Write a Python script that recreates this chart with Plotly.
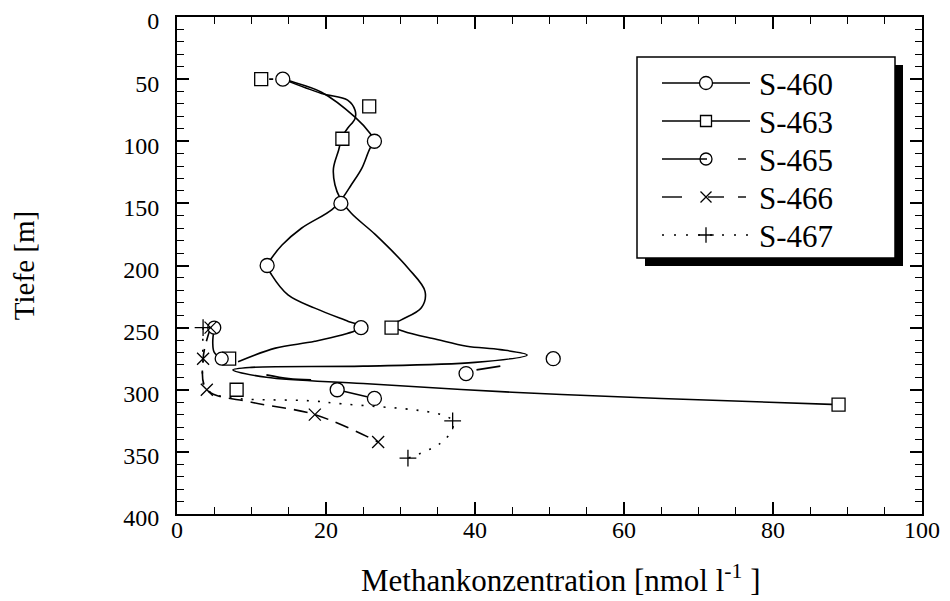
import plotly.graph_objects as go

FONT = "Liberation Serif, Times New Roman, serif"

# ---- marker data (x: Methankonzentration [nmol/l], y: Tiefe [m]) ----
s460_x = [14.2, 26.5, 22.0, 12.1, 24.7, 50.5, 38.8, 21.5, 26.5]
s460_y = [50, 100, 150, 200, 250, 275, 287, 300, 307]
s463_x = [11.3, 25.8, 22.2, 28.8, 7.0, 8.0, 88.8]
s463_y = [50, 72, 98, 250, 275, 300, 312]
s465_x = [5.0, 6.0]
s465_y = [250, 275]
s466_x = [4.5, 3.5, 4.0, 18.5, 27.0]
s466_y = [250, 275, 300, 320, 342]
s467_x = [3.5, 37.0, 31.0]
s467_y = [250, 325, 355]

# ---- smoothed curve paths as drawn in the figure ----
s460_cx = [14.2, 15.4, 19.4, 23.9, 25.9, 26.5, 25.9, 24.8, 23.4, 22.3, 20.8, 16.7, 14.1, 12.7, 12.1,
           12.7, 14.9, 18.5, 23.0, 24.7, 23.9, 18.5, 13.2, 8.2]
s460_cy = [50, 52, 60.5, 80.6, 93.6, 100, 105.7, 121.8, 135, 145, 155, 170, 183.5, 194, 200,
           207.5, 223.6, 234.3, 245, 249, 252.5, 261, 266.5, 277.5]
s460_c2x = [40.2, 43.4]
s460_c2y = [284, 281]
s460_c3x = [12.0, 15.0, 18.0]
s460_c3y = [288, 291, 292]
s460_c4x = [21.5, 26.5]
s460_c4y = [300, 307]
s463_cx = [14.2, 19.4, 22.9, 23.9, 23.9, 22.9, 22.2, 21.7, 21.0, 21.2, 21.9, 23.4, 26.6, 31.0, 33.3,
           32.8, 30.1, 28.8, 30.4, 34.9, 38.9, 43.4, 47.0, 40.0, 25.0, 10.0, 7.5, 12.0, 25.0, 45.0, 65.0, 88.8]
s463_cy = [50, 61.5, 66.9, 75, 81.6, 89.6, 96, 107, 121.8, 135, 146, 158, 175, 202, 221,
           234, 243.8, 248, 253, 259.6, 265, 267.7, 272, 278, 281, 282, 284, 290, 295, 302, 307, 312]
s463_c2x = [11.3, 14.2]
s463_c2y = [50, 50]
s465_cx = [5.0, 4.8, 5.0, 6.0]
s465_cy = [250, 262, 270, 275]
s466_cx = [4.5, 3.5, 4.0, 10.0, 18.5, 27.0]
s466_cy = [250, 275, 300, 310, 320, 342]
s467_cx = [3.5, 3.5, 4.0, 20.0, 37.0, 36.0, 31.0]
s467_cy = [250, 275, 300, 310, 325, 340, 355]

legend_names = ["S-460", "S-463", "S-465", "S-466", "S-467"]
x_ticks = [0, 20, 40, 60, 80, 100]
y_ticks = [0, 50, 100, 150, 200, 250, 300, 350, 400]

fig = go.Figure()

def add_line(cx, cy, dash):
    fig.add_trace(go.Scatter(x=cx, y=cy, mode="lines", showlegend=False, hoverinfo="skip",
                             line=dict(color="black", width=1.6, dash=dash, shape="spline", smoothing=1.0)))

def add_markers(mx, my, symbol, size):
    fig.add_trace(go.Scatter(x=mx, y=my, mode="markers", showlegend=False,
                             marker=dict(symbol=symbol, size=size, color="white",
                                         line=dict(color="black", width=1.3))))

add_line(s460_cx, s460_cy, "solid")
add_line(s460_c2x, s460_c2y, "solid")
add_line(s460_c3x, s460_c3y, "solid")
add_line(s460_c4x, s460_c4y, "solid")
add_line(s463_cx, s463_cy, "solid")
add_line(s463_c2x, s463_c2y, "4px,4px")
add_line(s465_cx, s465_cy, "solid")
add_line(s466_cx, s466_cy, "14px,8px")
add_line(s467_cx, s467_cy, "2px,9px")

add_markers(s460_x, s460_y, "circle", 14)
add_markers(s463_x, s463_y, "square", 13)
add_markers(s465_x, s465_y, "circle", 13)
add_markers(s466_x, s466_y, "x-thin", 12)
add_markers(s467_x, s467_y, "cross-thin", 12)

# ---- layout geometry in pixels ----
PX0, PX1, PY0, PY1 = 177, 922, 17, 514           # plot area
LX0, LX1, LY0, LY1 = 637, 895, 57, 258           # legend box
SH = 8                                            # legend shadow offset
OX0, OX1, OY0, OY1 = 630, 912, 50, 275            # overlay axis window (pixels)
to_px = lambda p: (p - PX0) / (PX1 - PX0)
to_py = lambda p: (PY1 - p) / (PY1 - PY0)

row_pix = [83 + 38 * i for i in range(5)]
styles = [("circle", 13), ("square", 11), ("circle-open", 12), ("x-thin", 11), ("cross-thin", 11)]
for name, yy, (sym, size) in zip(legend_names, row_pix, styles):
    if name == "S-465":
        segs = [([662, 707], "solid"), ([738, 746], "solid")]
    elif name == "S-466":
        segs = [([662, 682], "solid"), ([708, 724], "solid"), ([738, 746], "solid")]
    elif name == "S-467":
        segs = [([662, 750], "2px,10px")]
    else:
        segs = [([662, 750], "solid")]
    for xs, d in segs:
        fig.add_trace(go.Scatter(x=xs, y=[yy, yy], xaxis="x2", yaxis="y2", mode="lines", showlegend=False,
                                 hoverinfo="skip", line=dict(color="black", width=1.4, dash=d)))
    fig.add_trace(go.Scatter(x=[706], y=[yy], xaxis="x2", yaxis="y2", mode="markers", showlegend=False,
                             hoverinfo="skip",
                             marker=dict(symbol=sym, size=size, color="black" if "open" in sym else "white",
                                         line=dict(color="black", width=1.3))))
    fig.add_annotation(x=757, y=yy + 1, xref="x2", yref="y2", text=name, showarrow=False,
                       xanchor="left", yanchor="middle", font=dict(family=FONT, size=31, color="black"))

axis_common = dict(showline=True, linecolor="black", linewidth=2, mirror="ticks", ticks="inside",
                   tickcolor="black", tickwidth=1.5, ticklen=12, showgrid=False, zeroline=False,
                   automargin=False, tickfont=dict(family=FONT, size=24, color="black"))

fig.update_xaxes(range=[0, 100], tickvals=x_ticks, ticklabelstandoff=-7,
                 minor=dict(dtick=5, ticks="inside", ticklen=7, tickcolor="black", tickwidth=1.2),
                 **axis_common)
fig.update_yaxes(range=[400, 0], tickvals=y_ticks, ticklabelstandoff=11, ticklabelshift=-4,
                 minor=dict(dtick=10, ticks="inside", ticklen=7, tickcolor="black", tickwidth=1.2),
                 title=dict(text="Tiefe [m]", font=dict(family=FONT, size=29, color="black"), standoff=80),
                 **axis_common)

fig.add_annotation(x=to_px(560), y=to_py(578), xref="paper", yref="paper", showarrow=False,
                   text="Methankonzentration [nmol l<sup>-1</sup> ]", xanchor="center", yanchor="middle",
                   font=dict(family=FONT, size=31, color="black"))

fig.update_layout(
    width=950, height=601, margin=dict(l=PX0, r=950 - PX1, t=PY0, b=601 - PY1),
    paper_bgcolor="white", plot_bgcolor="rgba(0,0,0,0)", showlegend=False,
    xaxis2=dict(domain=[to_px(OX0), to_px(OX1)], range=[OX0, OX1], anchor="y2", visible=False,
                fixedrange=True),
    yaxis2=dict(domain=[to_py(OY1), to_py(OY0)], range=[OY1, OY0], anchor="x2", visible=False,
                fixedrange=True),
    shapes=[
        dict(type="rect", xref="x2", yref="y2", x0=LX0 + SH, x1=LX1 + SH, y0=LY0 + SH, y1=LY1 + SH,
             fillcolor="black", line=dict(width=0), layer="below"),
        dict(type="rect", xref="x2", yref="y2", x0=LX0, x1=LX1, y0=LY0, y1=LY1,
             fillcolor="white", line=dict(color="black", width=1.5), layer="below"),
    ],
)

fig.write_html("out.html")
